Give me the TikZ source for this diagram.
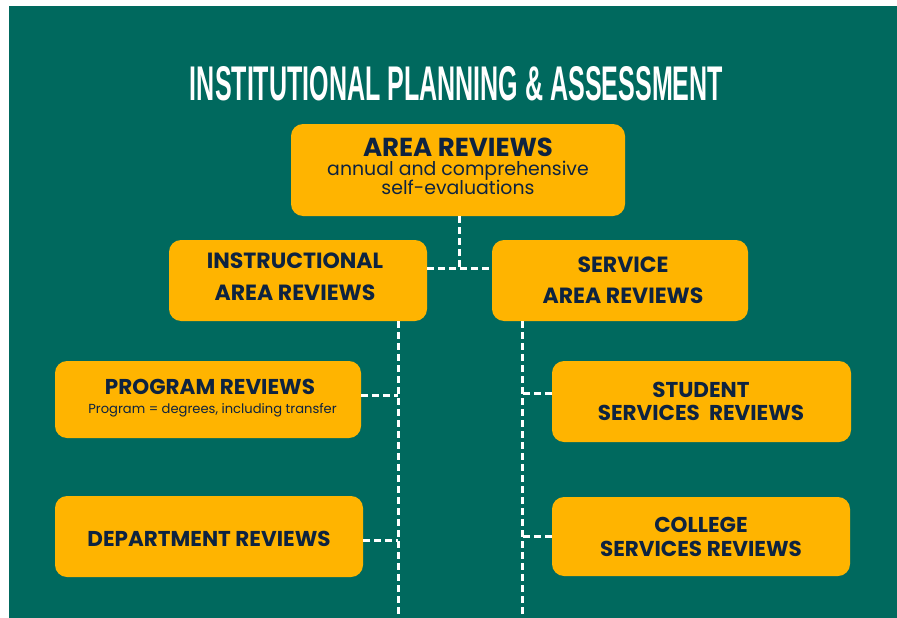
\documentclass[tikz,border=0pt]{standalone}
\usepackage{graphicx}
\usepackage{fontspec}
\setmainfont{Poppins}
\newfontfamily\titlefont{Liberation Sans}
\definecolor{bggreen}{HTML}{00695E}
\definecolor{boxyellow}{HTML}{FFB400}
\definecolor{navy}{HTML}{0E2340}
\begin{document}
\begin{tikzpicture}[x=1pt,y=-1pt,
  box/.style={draw=none,fill=boxyellow,rounded corners=12pt,inner sep=0pt},
  lbl/.style={anchor=base,inner sep=0pt,text=navy,font=\fontsize{21.5}{24}\selectfont\bfseries},
  sub/.style={anchor=base,inner sep=0pt,text=navy},
  conn/.style={draw=white,line width=3pt,dash pattern=on 7pt off 4pt}]
\useasboundingbox (0,0) rectangle (897,618);
\fill[white] (0,0) rectangle (897,618);
\fill[bggreen] (9,6) rectangle (897,618);
\node[inner sep=0pt,text=white] (title) at (456.5,84)
  {\resizebox{533pt}{34pt}{\titlefont\bfseries INSTITUTIONAL PLANNING \& ASSESSMENT}};
% boxes
\node[box,minimum width=334pt,minimum height=92pt] (area) at (458,170) {};
\node[box,minimum width=258pt,minimum height=81pt] (instr) at (298,280.5) {};
\node[box,minimum width=256pt,minimum height=81pt] (serv) at (620,280.5) {};
\node[box,minimum width=306pt,minimum height=77pt] (prog) at (208,399.5) {};
\node[box,minimum width=308pt,minimum height=81pt] (dept) at (209,536.5) {};
\node[box,minimum width=299pt,minimum height=81pt] (stud) at (701.5,401.5) {};
\node[box,minimum width=298pt,minimum height=79pt] (coll) at (701,536.5) {};
% texts
\node[lbl,font=\fontsize{26}{28}\selectfont\bfseries] (areaA) at (458,156) {AREA REVIEWS};
\node[sub,font=\fontsize{18.9}{20}\selectfont] (areaB) at (458,175) {annual and comprehensive};
\node[sub,font=\fontsize{18.9}{20}\selectfont] (areaC) at (458,194) {self-evaluations};
\node[lbl,font=\fontsize{22}{24}\selectfont\bfseries] (instrA) at (295,268) {INSTRUCTIONAL};
\node[lbl,font=\fontsize{22}{24}\selectfont\bfseries] (instrB) at (295,300) {AREA REVIEWS};
\node[lbl,font=\fontsize{22}{24}\selectfont\bfseries] (servA) at (623,272) {SERVICE};
\node[lbl,font=\fontsize{22}{24}\selectfont\bfseries] (servB) at (623,303) {AREA REVIEWS};
\node[lbl] (progA) at (210,394) {PROGRAM REVIEWS};
\node[sub,font=\fontsize{13.1}{15}\selectfont] (progB) at (212.5,413) {Program = degrees, including transfer};
\node[lbl] (deptA) at (209,546) {DEPARTMENT REVIEWS};
\node[lbl] (studA) at (701,397) {STUDENT};
\node[lbl] (studB) at (701,420) {SERVICES\ \ REVIEWS};
\node[lbl] (collA) at (701,532) {COLLEGE};
\node[lbl] (collB) at (701,556) {SERVICES REVIEWS};
% connectors
\coordinate (j) at (459,268);
\coordinate (ls) at (398,618);
\coordinate (rs) at (522,618);
\draw[conn] (area.south -| j) -- (j);
\draw[conn] (instr.east |- j) -- (serv.west |- j);
\draw[conn] (instr.south -| ls) -- (ls);
\draw[conn] (serv.south -| rs) -- (rs);
\draw[conn] (prog.east) ++(0,-4) -- ++(37,0);
\draw[conn] (dept.east) ++(0,3.5) -- ++(35,0);
\draw[conn] (stud.west) ++(0,-8) -- ++(-30,0);
\draw[conn] (coll.west) -- (coll.west -| rs);
\end{tikzpicture}
\end{document}
